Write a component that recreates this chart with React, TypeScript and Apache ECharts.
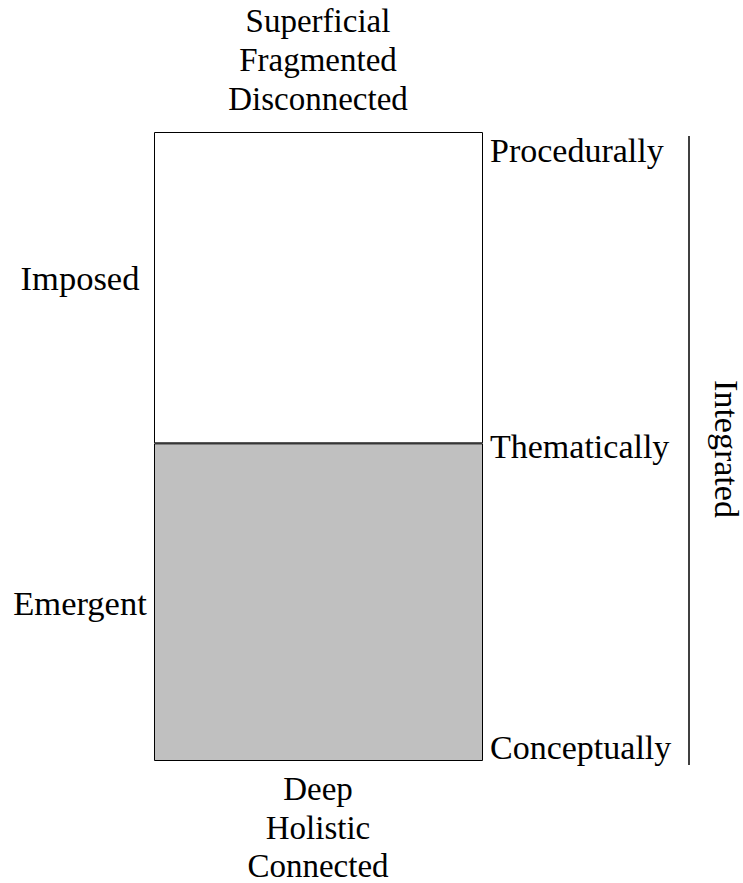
import React, { useEffect, useRef } from "react";
import * as echarts from "echarts";

const categories = ["Mode"];
const emergentValues = [50.5];
const imposedValues = [49.5];
const seriesNames = ["Emergent", "Imposed"];
const topLabels = ["Superficial", "Fragmented", "Disconnected"];
const bottomLabels = ["Deep", "Holistic", "Connected"];
const sideLabels = ["Imposed", "Emergent"];
const rightLabels = ["Procedurally", "Thematically", "Conceptually"];
const bracketTitle = "Integrated";

const FONT = "Liberation Serif";

export default function App() {
  const ref = useRef<HTMLDivElement>(null);
  useEffect(() => {
    if (!ref.current) return;
    const chart = echarts.init(ref.current, null, { renderer: "svg" });
    const txt = (
      text: string,
      x: number,
      y: number,
      align: string,
      fs: number,
      rotation = 0
    ) => ({
      type: "text",
      x,
      y,
      rotation,
      style: {
        text,
        fill: "#000",
        fontFamily: FONT,
        fontSize: fs,
        align,
        verticalAlign: "middle",
      },
    });
    const graphics: any[] = [];
    const topY = [21, 60, 99];
    topLabels.forEach((t, i) => graphics.push(txt(t, 318, topY[i], "center", 33)));
    const botY = [789, 828, 866];
    bottomLabels.forEach((t, i) => graphics.push(txt(t, 318, botY[i], "center", 33)));
    const sideY = [278, 603];
    sideLabels.forEach((t, i) => graphics.push(txt(t, 80, sideY[i], "center", 34.5)));
    const rightY = [150.5, 446.5, 747];
    rightLabels.forEach((t, i) => graphics.push(txt(t, 490, rightY[i], "left", 34)));
    graphics.push(txt(bracketTitle, 726, 449, "center", 34, -Math.PI / 2));
    graphics.push({
      type: "line",
      shape: { x1: 689, y1: 136, x2: 689, y2: 765 },
      style: { stroke: "#000", lineWidth: 1.5 },
    });

    chart.setOption({
      animation: false,
      backgroundColor: "#fff",
      grid: { left: 154, top: 132, width: 329, height: 629 },
      xAxis: { type: "category", data: categories, show: false },
      yAxis: { type: "value", min: 0, max: 100, show: false },
      series: [
        {
          name: seriesNames[0],
          type: "bar",
          stack: "s",
          data: emergentValues,
          barWidth: "100%",
          itemStyle: { color: "#c0c0c0", borderColor: "#000", borderWidth: 1 },
        },
        {
          name: seriesNames[1],
          type: "bar",
          stack: "s",
          data: imposedValues,
          barWidth: "100%",
          itemStyle: { color: "#ffffff", borderColor: "#000", borderWidth: 1 },
        },
      ],
      graphic: graphics,
    });
    return () => chart.dispose();
  }, []);
  return (
    <div
      ref={ref}
      style={{ position: "fixed", left: 0, top: 0, width: 743, height: 883 }}
    />
  );
}
